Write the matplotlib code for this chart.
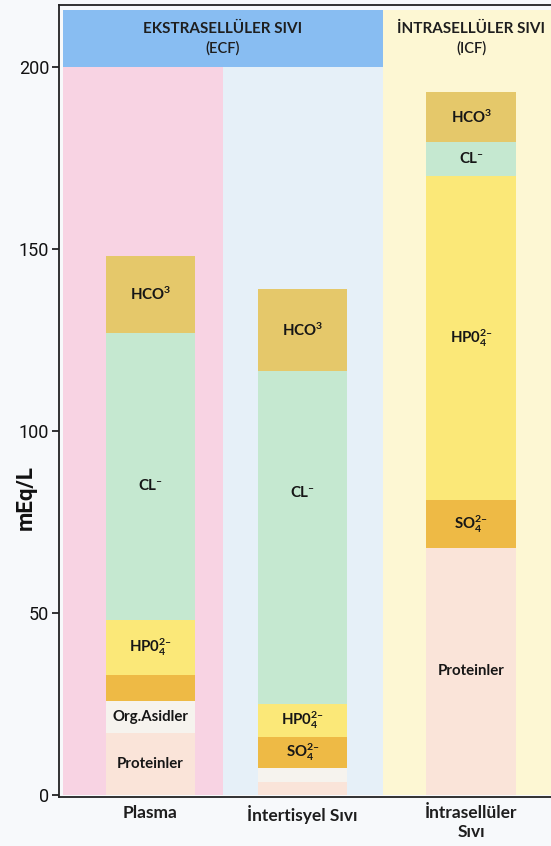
import matplotlib.pyplot as plt
from matplotlib.patches import Rectangle

# veriler (mEq/L), alttan üste doğru sıralı
categories = ['Plasma', 'İntertisyel Sıvı', 'İntrasellüler\nSıvı']
ions = ['Proteinler', 'Org.Asidler', 'SO$_4^{2–}$', 'HP0$_4^{2–}$', 'CL$^{–}$', 'HCO$^3$']
plasma = [17, 9, 7, 15, 79, 21]
interstitial = [3.5, 4, 8.5, 9, 91.5, 22.5]
intracellular = [68, 0, 13, 89, 9.5, 13.5]
yticks = [0, 50, 100, 150, 200]

# yerleşim
x_pos = [0, 1, 2.11]
bar_w = 0.59
ion_colors = ['#fae4d9', '#f6f3ee', '#eeba45', '#fbe878', '#c5e8d0', '#e5c86a']
label_y = {(0, 4): 85, (1, 4): 83}

plt.rcParams['font.family'] = ['Lato', 'DejaVu Sans']
plt.rcParams['mathtext.fontset'] = 'custom'
plt.rcParams['mathtext.rm'] = 'Lato:bold'
plt.rcParams['mathtext.it'] = 'Lato:bold'
plt.rcParams['mathtext.bf'] = 'Lato:bold'
plt.rcParams['mathtext.default'] = 'regular'

fig = plt.figure(figsize=(5.51, 8.46), dpi=100, facecolor='#f7f9fb')
ax = fig.add_axes([59 / 551, 49 / 846, 530 / 551, 792 / 846])
ax.set_facecolor('#f7f9fb')
ax.set_xlim(-0.602, -0.602 + 530 / 152)
ax.set_ylim(-0.5, 217)

# arka plan bölgeleri ve başlık şeridi
ax.add_patch(Rectangle((-0.576, 0), 1.053, 200, color='#f8d3e3', lw=0, zorder=0))
ax.add_patch(Rectangle((0.477, 0), 1.053, 200, color='#e6f0f8', lw=0, zorder=0))
ax.add_patch(Rectangle((1.530, 0), 3, 215.6, color='#fdf7d3', lw=0, zorder=0))
ax.add_patch(Rectangle((-0.576, 200), 2.106, 15.6, color='#88bdf2', lw=0, zorder=0))

ax.text(0.477, 210.4, 'EKSTRASELLÜLER SIVI', ha='center', va='center',
        fontsize=11, fontweight='bold', color='#1e1e1e')
ax.text(0.477, 205.0, '(ECF)', ha='center', va='center', fontsize=10.5,
        fontweight='semibold', color='#1e1e1e')
ax.text(x_pos[2], 210.4, 'İNTRASELLÜLER SIVI', ha='center', va='center',
        fontsize=11, fontweight='bold', color='#1e1e1e')
ax.text(x_pos[2], 205.0, '(ICF)', ha='center', va='center', fontsize=10.5,
        fontweight='semibold', color='#1e1e1e')

# yığılmış çubuklar
for i, (xp, vals) in enumerate(zip(x_pos, [plasma, interstitial, intracellular])):
    bottom = 0
    for j, (name, v, c) in enumerate(zip(ions, vals, ion_colors)):
        ax.bar(xp, v, bar_w, bottom=bottom, color=c, lw=0, zorder=2)
        if v >= 8:
            y = label_y.get((i, j), bottom + v / 2)
            ax.text(xp, y, name, ha='center', va='center', fontsize=10.8,
                    fontweight='bold', color='#161616', zorder=3)
        bottom += v

ax.set_yticks(yticks)
ax.tick_params(axis='y', labelsize=13, length=5, width=1.2, pad=2, colors='#111111')
for lbl in ax.get_yticklabels():
    lbl.set_fontfamily('Roboto')
ax.set_xticks(x_pos, categories)
ax.tick_params(axis='x', length=0, pad=6, labelsize=12.5, colors='#1e1e1e')
for lbl in ax.get_xticklabels():
    lbl.set_fontweight('bold')

ax.set_ylabel('mEq/L', fontsize=16, fontweight='bold', family='Roboto', color='#111111')
ax.yaxis.set_label_coords(-0.0415, 0.378)

for s in ['left', 'bottom', 'top']:
    ax.spines[s].set_linewidth(1.3)
    ax.spines[s].set_color('#222222')
ax.spines['right'].set_visible(False)

fig.savefig('out.png', dpi=100, facecolor=fig.get_facecolor())
